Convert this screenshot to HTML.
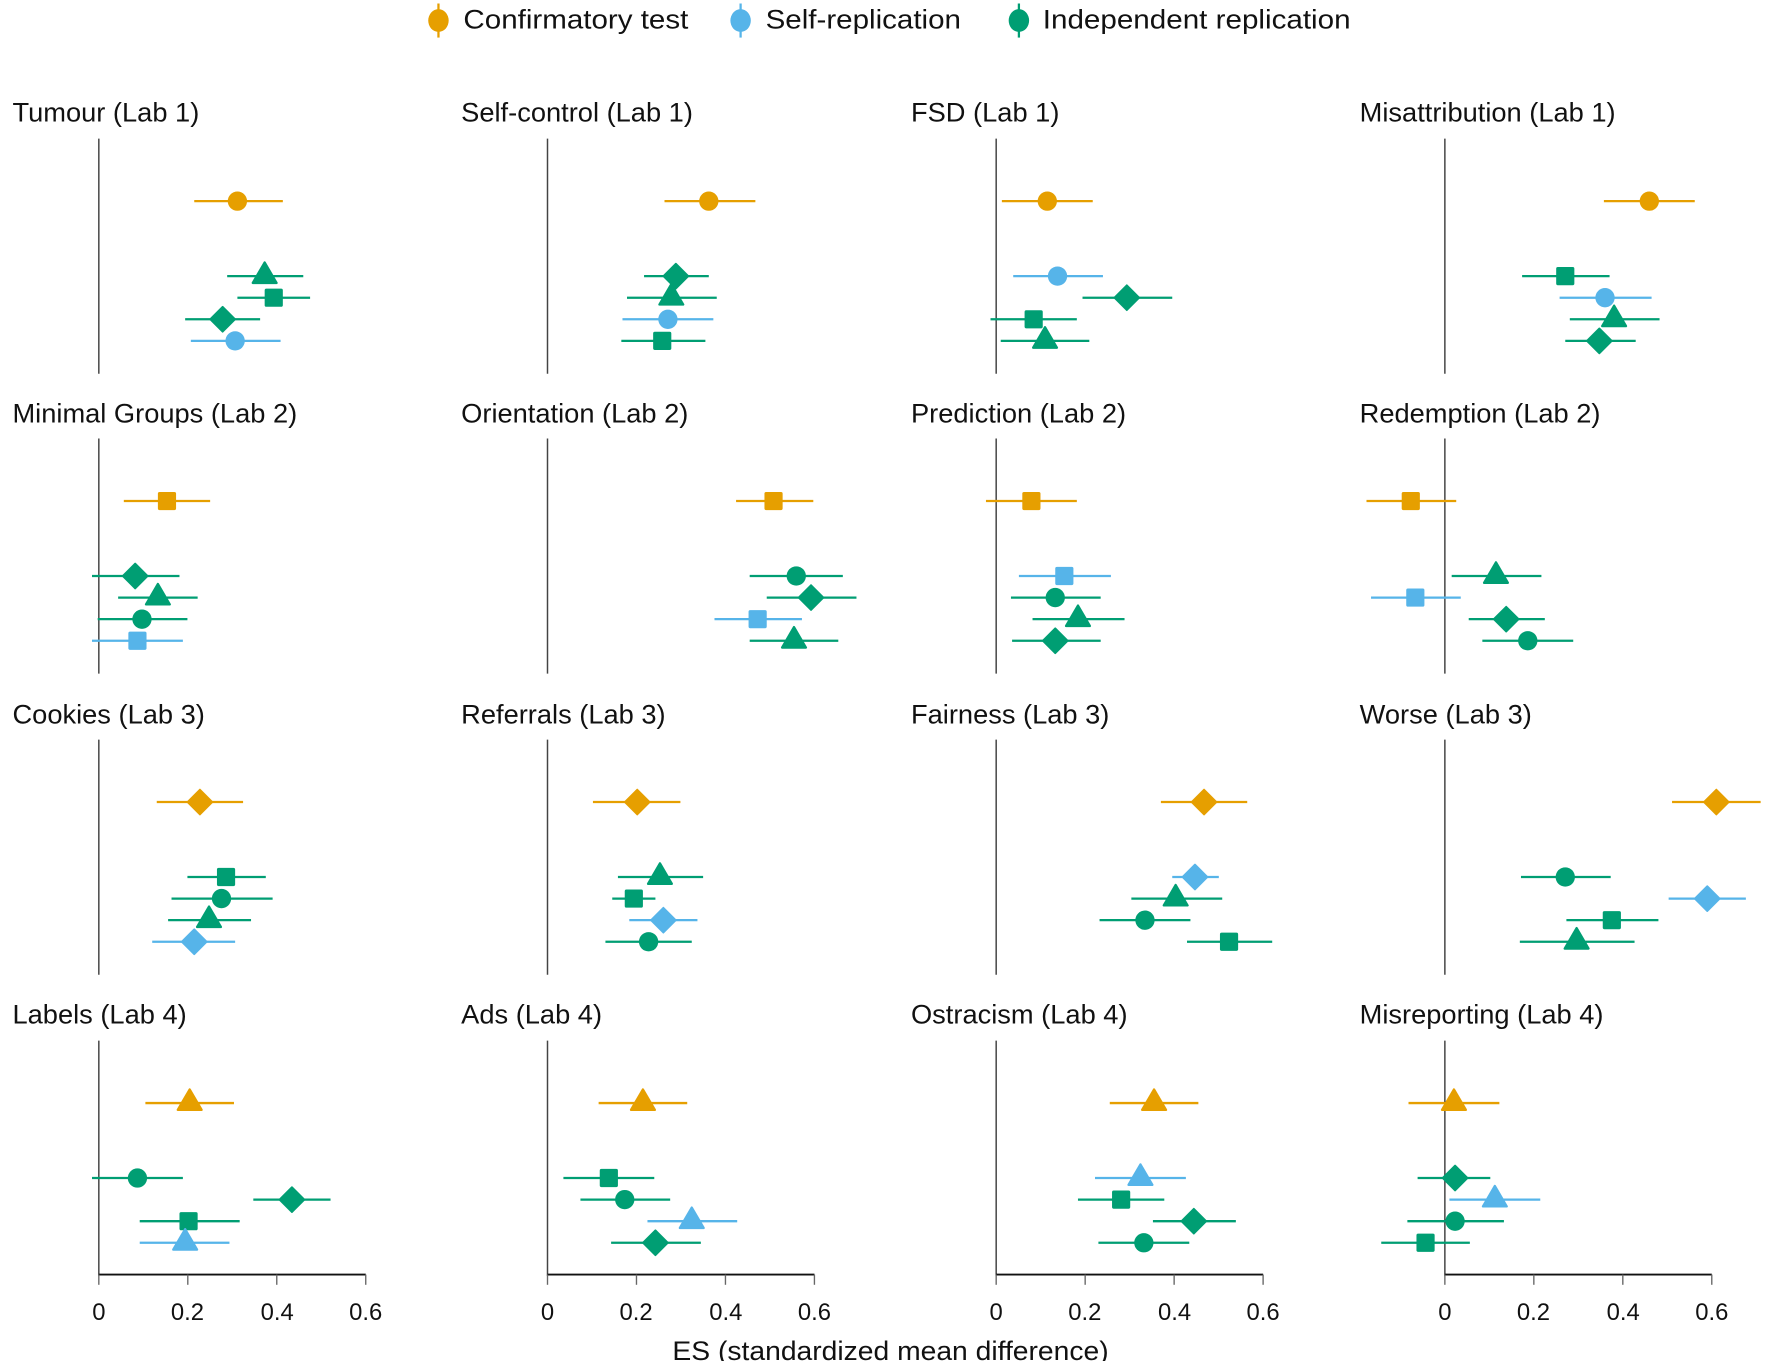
<!DOCTYPE html>
<html><head><meta charset="utf-8"><style>
html,body{margin:0;padding:0;background:#fff;}
svg{display:block;}
text{font-family:"Liberation Sans",sans-serif;fill:#111;}
</style></head><body>
<svg id="s" width="1772" height="1361" viewBox="0 0 1560 1198" xmlns="http://www.w3.org/2000/svg">
<g font-size="24">
<text x="408" y="25" textLength="198" lengthAdjust="spacingAndGlyphs">Confirmatory test</text>
<text x="674" y="25" textLength="172" lengthAdjust="spacingAndGlyphs">Self-replication</text>
<text x="918" y="25" textLength="271" lengthAdjust="spacingAndGlyphs">Independent replication</text>
<text x="11" y="107">Tumour (Lab 1)</text>
<text x="406" y="107">Self-control (Lab 1)</text>
<text x="802" y="107">FSD (Lab 1)</text>
<text x="1197" y="107">Misattribution (Lab 1)</text>
<text x="11" y="372">Minimal Groups (Lab 2)</text>
<text x="406" y="372">Orientation (Lab 2)</text>
<text x="802" y="372">Prediction (Lab 2)</text>
<text x="1197" y="372">Redemption (Lab 2)</text>
<text x="11" y="637">Cookies (Lab 3)</text>
<text x="406" y="637">Referrals (Lab 3)</text>
<text x="802" y="637">Fairness (Lab 3)</text>
<text x="1197" y="637">Worse (Lab 3)</text>
<text x="11" y="901">Labels (Lab 4)</text>
<text x="406" y="901">Ads (Lab 4)</text>
<text x="802" y="901">Ostracism (Lab 4)</text>
<text x="1197" y="901">Misreporting (Lab 4)</text>
<text x="784" y="1197" text-anchor="middle" textLength="384" lengthAdjust="spacingAndGlyphs">ES (standardized mean difference)</text>
</g>
<g font-size="21" text-anchor="middle">
<text x="87" y="1162">0</text><text x="165" y="1162">0.2</text><text x="244" y="1162">0.4</text><text x="322" y="1162">0.6</text>
<text x="482" y="1162">0</text><text x="560" y="1162">0.2</text><text x="639" y="1162">0.4</text><text x="717" y="1162">0.6</text>
<text x="877" y="1162">0</text><text x="955" y="1162">0.2</text><text x="1034" y="1162">0.4</text><text x="1112" y="1162">0.6</text>
<text x="1272" y="1162">0</text><text x="1350" y="1162">0.2</text><text x="1429" y="1162">0.4</text><text x="1507" y="1162">0.6</text>
</g>
<g id="g"></g>
</svg>
<script>
var O='#E69F00',B='#56B4E9',G='#009E73';
var g=document.getElementById('g'),h='';
function line(x1,y1,x2,y2,c,w){h+='<line x1="'+x1+'" y1="'+y1+'" x2="'+x2+'" y2="'+y2+'" stroke="'+c+'" stroke-width="'+w+'"/>';}
function mk(t,x,y,c){
 if(t=='c')h+='<circle cx="'+x+'" cy="'+y+'" r="8.5" fill="'+c+'"/>';
 else if(t=='s')h+='<rect x="'+(x-8)+'" y="'+(y-8)+'" width="16" height="16" rx="1.5" fill="'+c+'"/>';
 else if(t=='d')h+='<polygon points="'+x+','+(y-11)+' '+(x+11)+','+y+' '+x+','+(y+11)+' '+(x-11)+','+y+'" fill="'+c+'" stroke="'+c+'" stroke-linejoin="round" stroke-width="1.5"/>';
 else h+='<polygon points="'+x+','+(y-12)+' '+(x+10.5)+','+(y+6)+' '+(x-10.5)+','+(y+6)+'" fill="'+c+'" stroke="'+c+'" stroke-linejoin="round" stroke-width="2"/>';
}
[[386,O],[652,B],[897,G]].forEach(function(l){line(l[0],3,l[0],33,l[1],2);h+='<ellipse cx="'+l[0]+'" cy="18" rx="9" ry="10" fill="'+l[1]+'"/>';});
var zx=[87,482,877,1272],tops=[122,386,651,916];
var off=[55,121,140,159,178];
var P=[
[[['c',O,209,171,249],['t',G,233,200,267],['s',G,241,209,273],['d',G,196,163,229],['c',B,207,168,247]],
 [['c',O,624,585,665],['d',G,595,567,624],['t',G,591,552,631],['c',B,588,548,628],['s',G,583,547,621]],
 [['c',O,922,882,962],['c',B,931,892,971],['d',G,992,953,1032],['s',G,910,872,948],['t',G,920,881,959]],
 [['c',O,1452,1412,1492],['s',G,1378,1340,1417],['c',B,1413,1373,1454],['t',G,1421,1382,1461],['d',G,1408,1378,1440]]],
[[['s',O,147,109,185],['d',G,119,81,158],['t',G,139,104,174],['c',G,125,86,165],['s',B,121,81,161]],
 [['s',O,681,648,716],['c',G,701,660,742],['d',G,714,675,754],['s',B,667,629,706],['t',G,699,660,738]],
 [['s',O,908,868,948],['s',B,937,897,978],['c',G,929,890,969],['t',G,949,909,990],['d',G,929,891,969]],
 [['s',O,1242,1203,1282],['t',G,1317,1278,1357],['s',B,1246,1207,1286],['d',G,1326,1293,1360],['c',G,1345,1305,1385]]],
[[['d',O,176,138,214],['s',G,199,165,234],['c',G,195,151,240],['t',G,184,148,221],['d',B,171,134,207]],
 [['d',O,561,522,599],['t',G,581,544,619],['s',G,558,539,577],['d',B,584,554,614],['c',G,571,533,609]],
 [['d',O,1060,1022,1098],['d',B,1052,1032,1073],['t',G,1035,996,1076],['c',G,1008,968,1048],['s',G,1082,1045,1120]],
 [['d',O,1511,1472,1550],['c',G,1378,1339,1418],['d',B,1503,1469,1537],['s',G,1419,1379,1460],['t',G,1388,1338,1439]]],
[[['t',O,167,128,206],['c',G,121,81,161],['d',G,257,223,291],['s',G,166,123,211],['t',B,163,123,202]],
 [['t',O,566,527,605],['s',G,536,496,576],['c',G,550,511,590],['t',B,609,570,649],['d',G,577,538,617]],
 [['t',O,1016,977,1055],['t',B,1004,964,1044],['s',G,987,949,1025],['d',G,1051,1015,1088],['c',G,1007,967,1047]],
 [['t',O,1280,1240,1320],['d',G,1281,1248,1312],['t',B,1316,1276,1356],['c',G,1281,1239,1324],['s',G,1255,1216,1294]]]
];
for(var r=0;r<4;r++)for(var c=0;c<4;c++){
 var z=zx[c],t=tops[r];
 line(z,t,z,t+207,'#444',1.3);
 if(r==3){line(z,1122,z+235,1122,'#111',1.6);for(var k=0;k<4;k++)line(z+k*78.33,1122,z+k*78.33,1131,'#666',1.2);}
 P[r][c].forEach(function(m,i){var y=t+off[i];line(m[3],y,m[4],y,m[1],2);mk(m[0],m[2],y,m[1]);});
}
g.innerHTML=h;
</script>
</body></html>
